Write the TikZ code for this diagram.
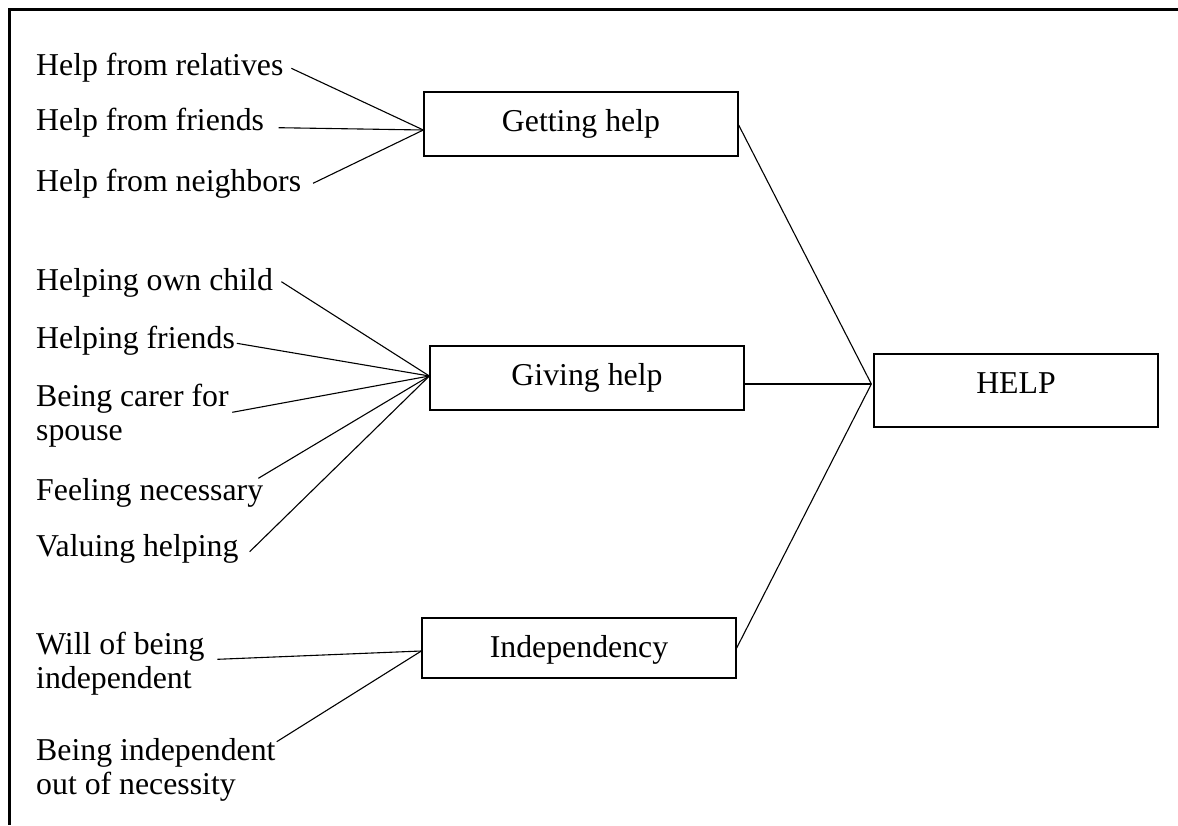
\documentclass[tikz,border=0pt]{standalone}
\usepackage{fontspec}
\setmainfont{Liberation Serif}
\usetikzlibrary{calc}
\tikzset{
  lbl/.style={anchor=base west, inner sep=0pt, font=\fontsize{31.8}{34}\selectfont},
  box/.style={draw, line width=1.3pt, inner sep=0pt, minimum width=314pt, minimum height=64pt,
    text height=22pt, text depth=8pt, font=\fontsize{31.8}{34}\selectfont},
  conn/.style={line width=1.1pt}
}
\newcommand{\twol}[2]{\begin{tabular}[t]{@{}l@{}}#1\\#2\end{tabular}}
\begin{document}
\begin{tikzpicture}[x=1pt,y=-1pt]
\fill[white] (0,0) rectangle (1178,825);
% frame (top edge and left edge, filled bands)
\coordinate (fTL) at (7.5,7.5);
\coordinate (fTR) at (1178,10.5);
\coordinate (fBL) at (10.5,825);
\fill[black] (fTL) rectangle (fTR);
\fill[black] (fTL) rectangle (fBL);

% boxes
\node[box] (gh) at (581,124) {Getting help};
\node[box] (gv) at (587,378) {Giving help};
\node[box, minimum height=60pt, text height=24pt, text depth=6pt] (ind) at (579,648) {Independency};
\node[box, minimum width=284pt, minimum height=73pt, text height=20pt, text depth=14pt] (help) at (1016,390.5) {HELP};

% labels
\node[lbl] (l1) at (36,75) {Help from relatives};
\node[lbl] (l2) at (36,130) {Help from friends};
\node[lbl] (l3) at (36,191) {Help from neighbors};
\node[lbl] (l4) at (36,290.7) {Helping own child};
\node[lbl] (l5) at (36,348) {Helping friends};
\node[lbl] (l6) at (36,406.7) {\twol{Being carer for}{spouse}};
\node[lbl] (l7) at (36,500.7) {Feeling necessary};
\node[lbl] (l8) at (36,556.7) {Valuing helping};
\node[lbl] (l9) at (36,654) {\twol{Will of being}{independent}};
\node[lbl] (l10) at (36,760) {\twol{Being independent}{out of necessity}};

% fan points
\coordinate (ghin) at ([shift={(0,6)}]gh.west);
\coordinate (gvin) at ([shift={(0,-2)}]gv.west);
\coordinate (indin) at ([shift={(0,3)}]ind.west);

% connectors from labels
\draw[conn] ([shift={(7.7,-6.7)}]l1.base east) -- (ghin);
\draw[conn] ([shift={(14.3,-2.3)}]l2.base east) -- (ghin);
\draw[conn] ([shift={(11.7,-7.7)}]l3.base east) -- (ghin);
\draw[conn] ([shift={(8.3,-9)}]l4.base east) -- (gvin);
\draw[conn] ([shift={(1.7,-4.7)}]l5.base east) -- (gvin);
\draw[conn] ([shift={(3.4,5.6)}]l6.base east) -- (gvin);
\draw[conn] ([shift={(-5,-22.4)}]l7.base east) -- (gvin);
\draw[conn] ([shift={(11,-5)}]l8.base east) -- (gvin);
\draw[conn] ([shift={(12.7,5.3)}]l9.base east) -- (indin);
\draw[conn] ([shift={(1,-18.3)}]l10.base east) -- (indin);

% connectors to HELP
\coordinate (helpin) at ([shift={(-2,-6.5)}]help.west);
\draw[conn] ([shift={(0,1)}]gh.east) -- (helpin);
\draw[conn] ([shift={(0,6)}]gv.east) -- (helpin);
\draw[conn] (ind.east) -- (helpin);
\end{tikzpicture}
\end{document}
